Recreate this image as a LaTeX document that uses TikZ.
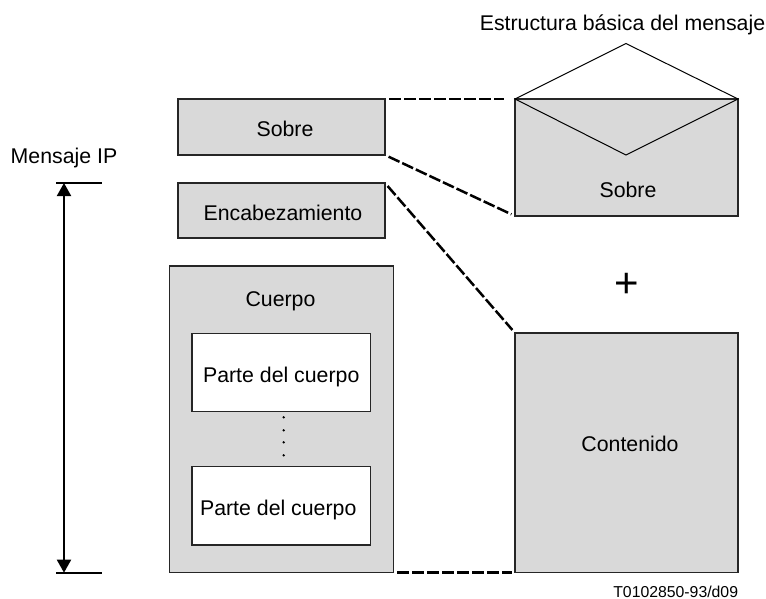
\documentclass[tikz,border=0pt]{standalone}
\usepackage{fontspec}
\setmainfont{Liberation Sans}
\usetikzlibrary{arrows.meta}
\tikzset{
  lbl/.style={inner sep=0pt, text height=20pt, text depth=0pt, font=\fontsize{21.3}{24}\selectfont},
  graybox/.style={lbl, draw=black!85, fill=black!15, line width=1.4pt, outer sep=0pt},
  whitebox/.style={graybox, fill=white},
  link/.style={line width=2.5pt, dash pattern=on 12pt off 3pt},
  extent/.style={line width=2pt, {Triangle[length=13pt,width=14pt]}-{Triangle[length=13pt,width=14pt]}},
}

\begin{document}
\begin{tikzpicture}[x=1pt,y=-1pt]
  \useasboundingbox (0,0) rectangle (766,599);
  % left column
  \node[graybox, minimum width=207pt, minimum height=56pt] (sobre) at (281.5,127) {\hspace*{7pt}Sobre};
  \node[graybox, minimum width=207pt, minimum height=55pt] (encab) at (281.5,210.5) {\hspace*{3pt}Encabezamiento};
  \node[graybox, minimum width=223.5pt, minimum height=306.5pt] (cuerpo) at (281.5,419.25) {};
  \node[lbl] (cuerpotxt) at (280.5,296) {Cuerpo};
  \node[whitebox, minimum width=178.5pt, minimum height=78pt] (parte1) at (281.25,372.2) {Parte del cuerpo};
  \node[whitebox, minimum width=178.5pt, minimum height=78.3pt] (parte2) at (281.25,505.85) {Parte del cuerpo\hspace*{6pt}};
  \foreach \y in {417.3,430.3,442.3,455.3}
    \fill (283.7,\y) circle (1.3);

  % right column
  \node[graybox, minimum width=223pt, minimum height=117pt] (sobrebig) at (626.5,157.5) {};
  \coordinate (flaptop) at (626,43.5);
  \coordinate (flaptip) at (626,155);
  \draw[line width=1pt] (sobrebig.north west) -- (flaptop) -- (sobrebig.north east) -- (flaptip) -- cycle;
  \node[lbl] (sobretxt) at (628,187.7) {Sobre};
  \node[lbl, text height=0pt, font=\fontsize{42}{44}\selectfont] (plus) at (626.7,297) {+};
  \node[graybox, minimum width=223pt, minimum height=239.5pt] (contenido) at (626.5,452.75) {};
  \node[lbl] (contenidotxt) at (630,441) {Contenido};

  % texts outside
  \node[lbl] (titulo) at (622.5,21) {Estructura básica del mensaje};
  \node[lbl] (mensaje) at (64,154) {Mensaje IP};
  \node[lbl, font=\fontsize{15.8}{18}\selectfont] (codigo) at (675.7,587) {T0102850-93/d09};

  % extent of the message
  \coordinate (tope) at (64,183);
  \coordinate (base) at (64,572.7);
  \draw[line width=2pt] (56,183) -- (102,183) (56,572.7) -- (102,572.7);
  \draw[extent] (tope) -- (base);

  % dashed links
  \draw[link, shorten <=4pt, shorten >=11pt] (sobre.north east) -- (sobrebig.north west);
  \draw[link, shorten <=4pt, shorten >=4pt] (sobre.south east) -- (sobrebig.south west);
  \draw[link, shorten <=4pt, shorten >=4pt] (encab.north east) -- (contenido.north west);
  \draw[link, shorten <=4pt, shorten >=3pt] (cuerpo.south east) -- (contenido.south west);
\end{tikzpicture}
\end{document}
